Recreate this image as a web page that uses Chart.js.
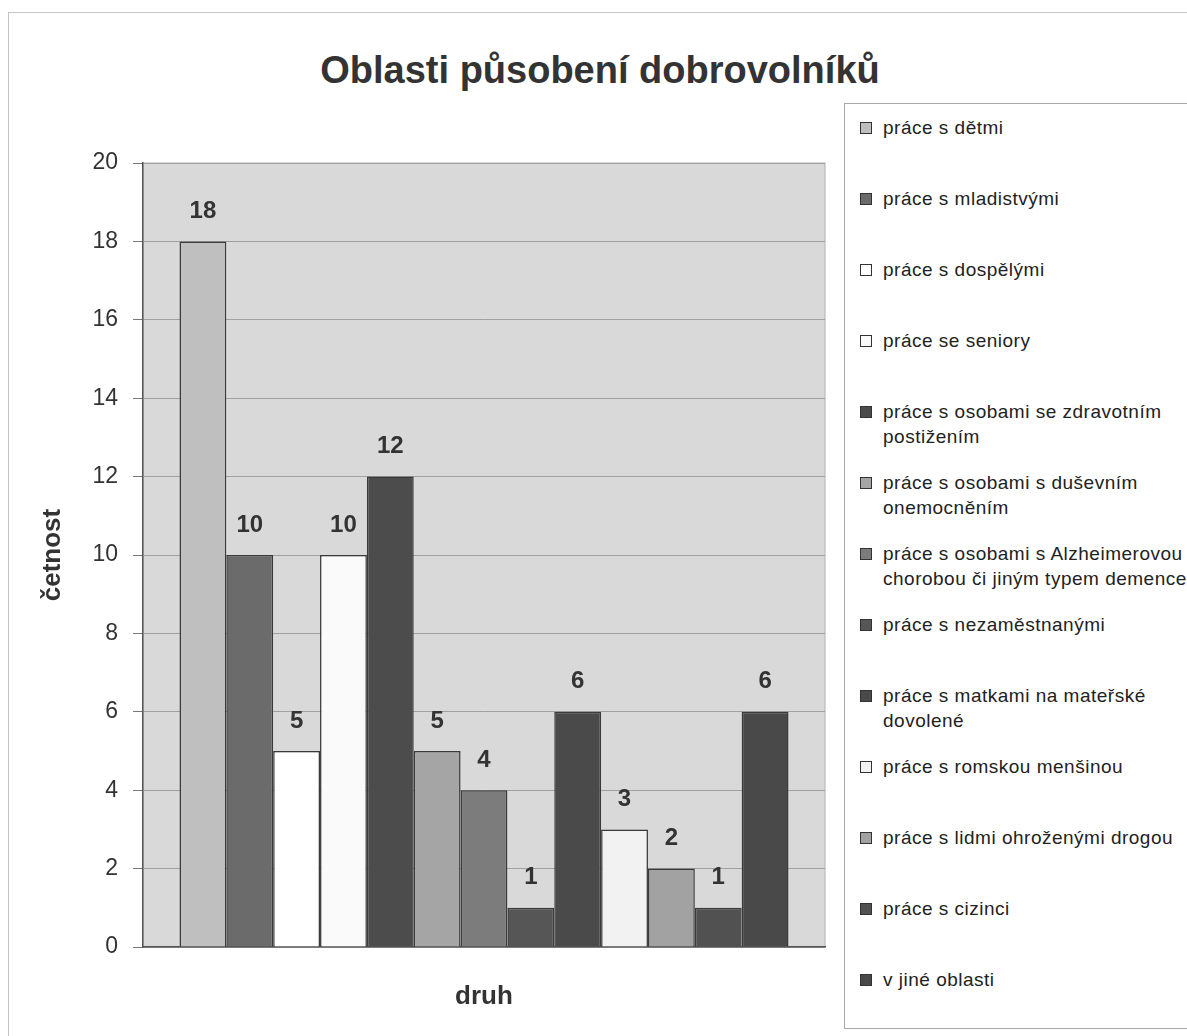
<!DOCTYPE html>
<html>
<head>
<meta charset="utf-8">
<script src="https://cdn.jsdelivr.net/npm/chart.js@4.4.1/dist/chart.umd.min.js"></script>
<style>
    body { margin: 0; background: #fff; font-family: "Liberation Sans", Arial, sans-serif; }
    #page { position: relative; width: 1187px; height: 1036px; overflow: hidden; }
    #frame { position: absolute; left: 8px; top: 12px; width: 1200px; height: 1100px;
        border-left: 1px solid #c4c4c4; border-top: 1px solid #c4c4c4; }
    #title { position: absolute; left: 0; top: 47px; width: 1200px; text-align: center;
        font-weight: bold; font-size: 38px; line-height: 46px; color: #333; }
    #chartBox { position: absolute; left: 0; top: 0; width: 840px; height: 1036px; }
    #legend { position: absolute; left: 844px; top: 103px; width: 360px; height: 926px;
        border: 1px solid #a8a8a8; box-sizing: border-box; padding-top: 11px; }
    .item { display: flex; align-items: flex-start; height: 71px; padding-left: 15px; }
    .swatch { width: 10px; height: 10px; border: 1px solid #333; margin-top: 7px; margin-right: 11px; flex: none; }
    .text { white-space: pre-line; font-size: 19px; line-height: 25px; color: #222; letter-spacing: 0.5px; }
</style>
</head>
<body>
<div id="page">
    <div id="frame"></div>
    <div id="title">Oblasti působení dobrovolníků</div>
    <div id="chartBox"><canvas id="chart"></canvas></div>
    <div id="legend"></div>
</div>
<script>
// series (one bar per area of activity)
const areas = [
    'práce s dětmi',
    'práce s mladistvými',
    'práce s dospělými',
    'práce se seniory',
    'práce s osobami se zdravotním\npostižením',
    'práce s osobami s duševním\nonemocněním',
    'práce s osobami s Alzheimerovou\nchorobou či jiným typem demence',
    'práce s nezaměstnanými',
    'práce s matkami na mateřské\ndovolené',
    'práce s romskou menšinou',
    'práce s lidmi ohroženými drogou',
    'práce s cizinci',
    'v jiné oblasti'
];
const counts = [18, 10, 5, 10, 12, 5, 4, 1, 6, 3, 2, 1, 6];
const fills = ['#bfbfbf', '#6b6b6b', '#ffffff', '#fafafa', '#4c4c4c', '#a5a5a5', '#7c7c7c',
               '#565656', '#4a4a4a', '#f2f2f2', '#a2a2a2', '#515151', '#494949'];
const yTicks = [0, 2, 4, 6, 8, 10, 12, 14, 16, 18, 20];

const plotBg = {
    id: 'plotBg',
    beforeDraw(chart) {
        const { ctx, chartArea: a } = chart;
        ctx.save();
        ctx.fillStyle = '#d9d9d9';
        ctx.fillRect(a.left, a.top, a.right - a.left, a.bottom - a.top);
        ctx.strokeStyle = '#b0b0b0';
        ctx.lineWidth = 1;
        ctx.strokeRect(a.left, a.top, a.right - a.left, a.bottom - a.top);
        ctx.restore();
    }
};

const valueLabels = {
    id: 'valueLabels',
    afterDatasetsDraw(chart) {
        const ctx = chart.ctx;
        ctx.save();
        ctx.font = 'bold 24px "Liberation Sans", Arial, sans-serif';
        ctx.fillStyle = '#333';
        ctx.textAlign = 'center';
        ctx.textBaseline = 'middle';
        chart.data.datasets.forEach((ds, i) => {
            const bar = chart.getDatasetMeta(i).data[0];
            ctx.fillText(String(ds.data[0]), bar.x, bar.y - 30);
        });
        ctx.restore();
    }
};

const chart = new Chart(document.getElementById('chart'), {
    type: 'bar',
    data: {
        labels: [''],
        datasets: areas.map((name, i) => ({
            label: name,
            data: [counts[i]],
            backgroundColor: fills[i],
            borderColor: '#3a3a3a',
            borderWidth: 1.5,
            categoryPercentage: 0.893,
            barPercentage: 1.0
        }))
    },
    options: {
        responsive: true,
        maintainAspectRatio: false,
        animation: false,
        layout: { padding: { left: 8, top: 163, right: 15, bottom: 0 } },
        plugins: {
            legend: { display: false },
            tooltip: { enabled: false }
        },
        scales: {
            x: {
                grid: { display: false },
                border: { color: '#555', width: 1.5 },
                ticks: { display: false },
                title: {
                    display: true, text: 'druh', color: '#333',
                    font: { family: '"Liberation Sans", Arial, sans-serif', size: 26, weight: 'bold' },
                    padding: { top: 0, bottom: 24 }
                },
                afterFit: s => { s.height = 89; }
            },
            y: {
                min: 0, max: 20,
                afterBuildTicks: s => { s.ticks = yTicks.map(v => ({ value: v })); },
                grid: { color: '#a0a0a0', lineWidth: 1, tickLength: 10, tickColor: '#777' },
                border: { color: '#555', width: 1.5 },
                ticks: {
                    color: '#333', padding: 15,
                    font: { family: '"Liberation Sans", Arial, sans-serif', size: 23 }
                },
                title: {
                    display: true, text: 'četnost', color: '#333',
                    font: { family: '"Liberation Sans", Arial, sans-serif', size: 26, weight: 'bold' },
                    padding: { top: 29, bottom: 0 }
                },
                afterFit: s => { s.width = 135; }
            }
        }
    },
    plugins: [plotBg, valueLabels]
});

// legend built from the chart's datasets
const legend = document.getElementById('legend');
chart.data.datasets.forEach(ds => {
    const item = document.createElement('div');
    item.className = 'item';
    const sw = document.createElement('span');
    sw.className = 'swatch';
    sw.style.background = ds.backgroundColor;
    const tx = document.createElement('span');
    tx.className = 'text';
    tx.textContent = ds.label;
    item.appendChild(sw);
    item.appendChild(tx);
    legend.appendChild(item);
});
</script>
</body>
</html>
